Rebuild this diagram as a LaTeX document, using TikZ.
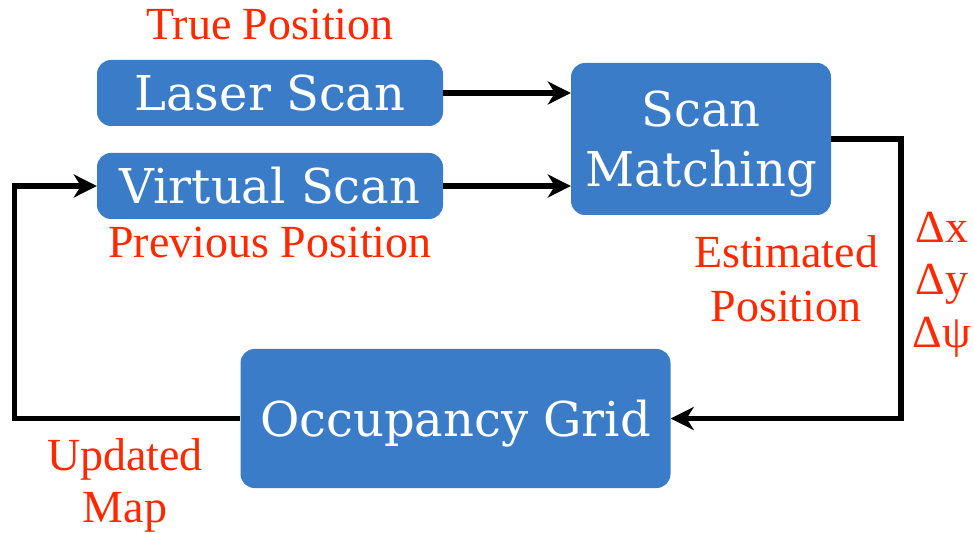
\documentclass[tikz,border=0pt]{standalone}
\usepackage{fontspec}
\setmainfont{Liberation Serif}
\newfontfamily\lblfont{Liberation Serif}
\newfontfamily\boxfont{DejaVu Serif}
\usetikzlibrary{arrows.meta}
\definecolor{boxblue}{RGB}{58,124,200}
\definecolor{lblred}{RGB}{255,40,0}
\tikzset{
  blk/.style={fill=boxblue, draw=none, rounded corners=14pt, inner sep=0pt,
    text=white, font=\boxfont\fontsize{48}{60}\selectfont, align=center},
  lbl/.style={text=lblred, font=\lblfont\fontsize{46}{52}\selectfont, inner sep=0pt, anchor=base},
  arr/.style={line width=5.5pt, line join=miter,
    -{Stealth[length=23pt,width=23pt,inset=7pt]}},
}
\begin{document}
\begin{tikzpicture}[x=1pt,y=-1pt]
\useasboundingbox (0,0) rectangle (974,534);
% blocks
\node[blk, minimum width=346pt, minimum height=66pt, text height=35pt, text depth=0pt] (laser) at (270,93) {Laser Scan};
\node[blk, minimum width=346pt, minimum height=66pt, text height=35pt, text depth=0pt] (virtual) at (270,186) {Virtual Scan};
\node[blk, minimum width=260pt, minimum height=152pt, text depth=0pt] (sm) at (701,139) {Scan\\Matching};
\node[blk, minimum width=430pt, minimum height=139pt, text height=35pt, text depth=0pt] (occ) at (455.5,418.5) {Occupancy Grid};
% labels
\node[lbl] (ltrue) at (270,40) {True Position};
\node[lbl] (lprev) at (270,258) {Previous Position};
\node[lbl] (lest1) at (786,268) {Estimated};
\node[lbl] (lest2) at (786,322) {Position};
\node[lbl] (ldx) at (942,243) {Δx};
\node[lbl] (ldy) at (942,295) {Δy};
\node[lbl] (ldp) at (942,348) {Δψ};
\node[lbl] (lupd1) at (125,470) {Updated};
\node[lbl] (lupd2) at (125,522) {Map};
% connectors
\draw[arr] (laser.east) -- (sm.west |- laser.east);
\draw[arr] (virtual.east) -- (sm.west |- virtual.east);
\draw[arr] (sm.east) -- ++(70,0) |- (occ.east);
\draw[arr] (occ.west) -- ++(-226,0) |- (virtual.west);
\end{tikzpicture}
\end{document}
